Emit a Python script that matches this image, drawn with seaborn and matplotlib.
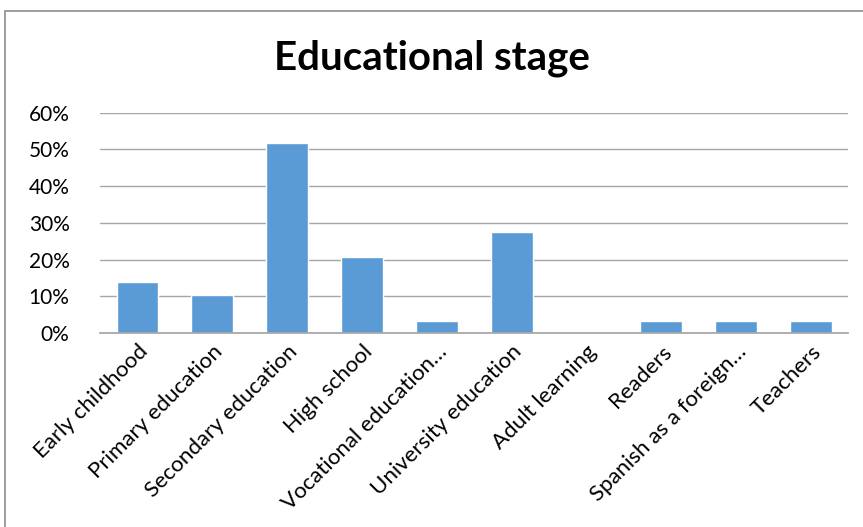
import matplotlib
matplotlib.use("Agg")
import matplotlib.pyplot as plt
import seaborn as sns
import pandas as pd
from matplotlib.ticker import PercentFormatter
from matplotlib.patches import Rectangle

categories = ["Early childhood", "Primary education", "Secondary education", "High school",
              "Vocational education…", "University education", "Adult learning", "Readers",
              "Spanish as a foreign…", "Teachers"]
values = [13.8, 10.3, 51.7, 20.7, 3.4, 27.6, 0.0, 3.4, 3.4, 3.4]

df = pd.DataFrame({"stage": categories, "pct": values})

sns.set_theme(style="white")
plt.rcParams["font.family"] = ["Lato", "DejaVu Sans"]

fig = plt.figure(figsize=(8.63, 5.27), dpi=100)
ax = fig.add_axes([0.116, 0.368, 0.867, 0.418])
sns.barplot(data=df, x="stage", y="pct", color="#5B9BD5", width=0.56, ax=ax, saturation=1)

ax.set_ylim(0, 60)
ax.set_yticks(range(0, 61, 10))
ax.yaxis.set_major_formatter(PercentFormatter(decimals=0))
ax.grid(axis="y", color="#A6A6A6", linewidth=1)
ax.set_axisbelow(True)
for s in ["top", "right", "left"]:
    ax.spines[s].set_visible(False)
ax.spines["bottom"].set_color("#A6A6A6")
ax.set_xlabel("")
ax.set_ylabel("")
ax.tick_params(axis="y", labelsize=15, colors="black", length=0, pad=22)
ax.tick_params(axis="x", labelsize=16, colors="black", length=0, pad=6)
for lab in ax.get_xticklabels():
    lab.set_rotation(45)
    lab.set_ha("right")
    lab.set_rotation_mode("anchor")
ax.set_xlim(-0.5, len(categories) - 0.5)

fig.text(0.5, 0.89, "Educational stage", ha="center", va="center",
         fontsize=29, fontweight="bold", color="black")

fig.patches.append(Rectangle((5 / 863, -0.1), 1.1, 1 - 11 / 527 + 0.1, transform=fig.transFigure,
                             fill=False, edgecolor="#8C8C8C", linewidth=1.2))

fig.savefig("out.png", dpi=100)
